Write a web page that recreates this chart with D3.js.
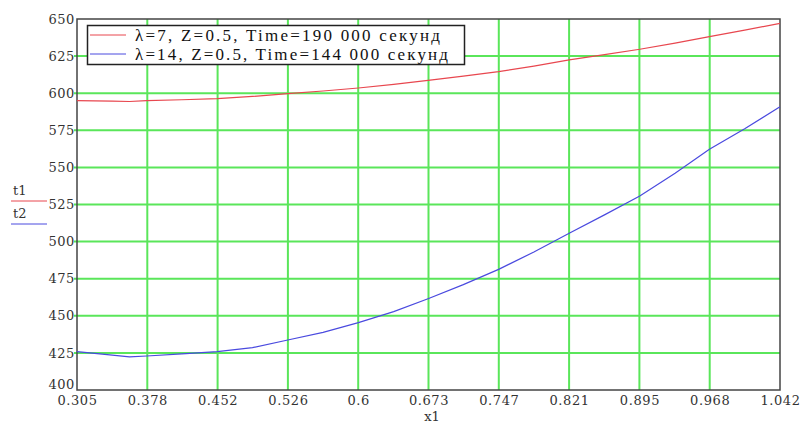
<!DOCTYPE html>
<html>
<head>
<meta charset="utf-8">
<script src="https://cdn.jsdelivr.net/npm/d3@7"></script>
<style>
  body { margin: 0; background: #fff; }
</style>
</head>
<body>
<script>
const xValues = [0.305, 0.342, 0.36, 0.378, 0.415, 0.452, 0.489, 0.526, 0.563, 0.6, 0.637, 0.673,
  0.71, 0.747, 0.784, 0.821, 0.858, 0.895, 0.932, 0.968, 1.005, 1.042];
const t1 = [595, 594.6, 594.4, 595, 595.6, 596.3, 597.8, 599.7, 601.5, 603.5, 606, 608.7,
  611.5, 614.5, 618.2, 622.4, 626, 629.6, 633.8, 638.1, 642.5, 647];
const t2 = [425.8, 423.5, 422.3, 422.9, 424.3, 425.8, 428.5, 433.7, 438.8, 445.4, 452.8, 461.5,
  471, 481.3, 493, 505.6, 518, 530.7, 546, 562.2, 576, 590.9];
const xTickLabels = ["0.305", "0.378", "0.452", "0.526", "0.6", "0.673", "0.747", "0.821", "0.895", "0.968", "1.042"];
const yTicks = [400, 425, 450, 475, 500, 525, 550, 575, 600, 625, 650];
const legendLabels = ["\u03bb=7, Z=0.5, Time=190 000 секунд", "\u03bb=14, Z=0.5, Time=144 000 секунд"];
const colors = ["#e8474f", "#4a4adf"];

const tickFont = "'DejaVu Serif', 'Liberation Serif', serif";
const legendFont = "'Liberation Serif', 'Times New Roman', 'DejaVu Serif', serif";

const width = 803, height = 423;
const margin = {top: 19, right: 23, bottom: 33, left: 77};

const svg = d3.select("body").append("svg")
  .attr("width", width)
  .attr("height", height);

const x = d3.scaleLinear()
  .domain([0.305, 1.042])
  .range([margin.left, width - margin.right]);

const y = d3.scaleLinear()
  .domain([400, 650])
  .range([height - margin.bottom, margin.top]);

const xTickVals = xTickLabels.map((d, i) => 0.305 + i * (1.042 - 0.305) / 10);

// grid
const green = "#5ae65a";
svg.append("g").selectAll("line")
  .data(xTickVals.slice(1, -1))
  .join("line")
  .attr("x1", d => x(d)).attr("x2", d => x(d))
  .attr("y1", margin.top).attr("y2", height - margin.bottom)
  .attr("stroke", green).attr("stroke-width", 2);

svg.append("g").selectAll("line")
  .data(yTicks.slice(1, -1))
  .join("line")
  .attr("x1", margin.left - 3).attr("x2", width - margin.right)
  .attr("y1", d => y(d)).attr("y2", d => y(d))
  .attr("stroke", green).attr("stroke-width", 2);

// frame
svg.append("rect")
  .attr("x", margin.left).attr("y", margin.top)
  .attr("width", width - margin.left - margin.right)
  .attr("height", height - margin.top - margin.bottom)
  .attr("fill", "none").attr("stroke", "#444").attr("stroke-width", 1.5);

// axes labels
const xAxis = d3.axisBottom(x).tickValues(xTickVals)
  .tickFormat((d, i) => xTickLabels[i]).tickSize(0).tickPadding(6);
const gx = svg.append("g")
  .attr("transform", "translate(0," + (height - margin.bottom) + ")")
  .call(xAxis);
gx.attr("font-family", tickFont);
gx.select(".domain").remove();
gx.selectAll("text").attr("font-size", 13).attr("fill", "#333")
  .attr("letter-spacing", 0.6);

const yAxis = d3.axisLeft(y).tickValues(yTicks).tickSize(0).tickPadding(2);
const gy = svg.append("g")
  .attr("transform", "translate(" + margin.left + ",0)")
  .call(yAxis);
gy.attr("font-family", tickFont);
gy.select(".domain").remove();
gy.selectAll("text").attr("font-size", 13).attr("fill", "#333")
  .attr("letter-spacing", 0.6)
  .attr("dy", d => d === 400 ? "-0.12em" : "0.32em");

svg.append("text")
  .attr("x", 432).attr("y", 421)
  .attr("text-anchor", "middle")
  .attr("font-family", tickFont)
  .attr("font-size", 13).attr("fill", "#333")
  .text("x1");

// lines
const line = d3.line()
  .x((d, i) => x(xValues[i]))
  .y(d => y(d));

[t1, t2].forEach((s, i) => {
  svg.append("path")
    .datum(s)
    .attr("d", line)
    .attr("fill", "none")
    .attr("stroke", colors[i])
    .attr("stroke-width", 1.2);
});

// y label legend at left
["t1", "t2"].forEach((name, i) => {
  svg.append("text")
    .attr("x", 13).attr("y", 195 + i * 23)
    .attr("font-family", tickFont)
    .attr("font-size", 13).attr("fill", "#333")
    .text(name);
  svg.append("line")
    .attr("x1", 11).attr("x2", 47)
    .attr("y1", 201 + i * 23).attr("y2", 201 + i * 23)
    .attr("stroke", colors[i]).attr("stroke-width", 1);
});

// legend box
const legend = svg.append("g");
legend.append("rect")
  .attr("x", 87.5).attr("y", 25.5)
  .attr("width", 377).attr("height", 39)
  .attr("fill", "#fff").attr("stroke", "#222").attr("stroke-width", 1.5);

legendLabels.forEach((label, i) => {
  legend.append("line")
    .attr("x1", 90).attr("x2", 126)
    .attr("y1", 35 + i * 19).attr("y2", 35 + i * 19)
    .attr("stroke", colors[i]).attr("stroke-width", 1);
  legend.append("text")
    .attr("x", 135).attr("y", 41 + i * 19)
    .attr("font-family", legendFont)
    .attr("font-size", 17).attr("fill", "#111")
    .attr("textLength", i === 0 ? 305 : 313)
    .attr("lengthAdjust", "spacing")
    .text(label);
});
</script>
</body>
</html>
